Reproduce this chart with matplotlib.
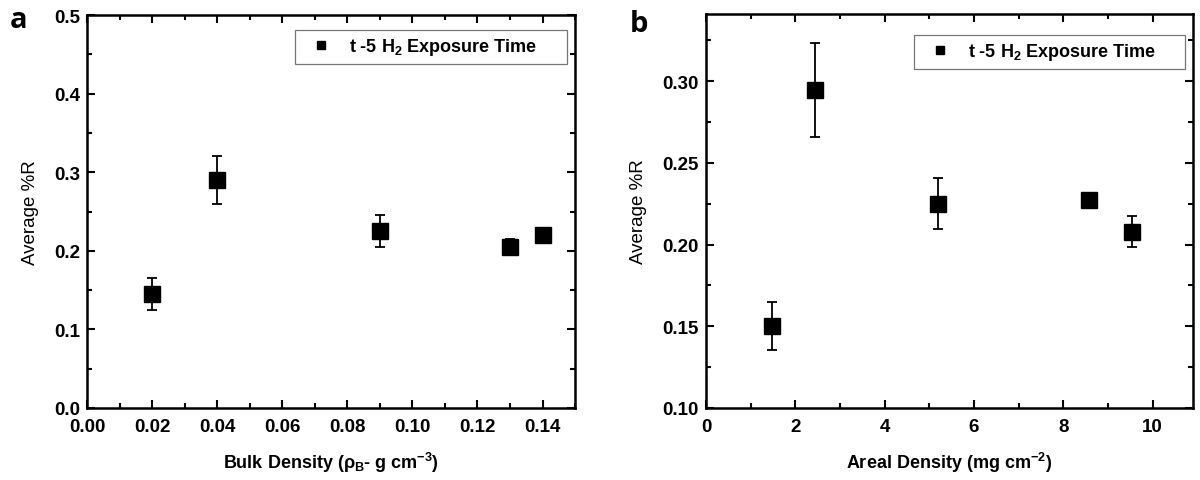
import matplotlib
matplotlib.use("Agg")
import matplotlib.pyplot as plt
from matplotlib.ticker import MultipleLocator, FormatStrFormatter

plt.rcParams['font.family'] = ['Liberation Sans', 'DejaVu Sans']
plt.rcParams['mathtext.fontset'] = 'custom'
plt.rcParams['mathtext.rm'] = 'Liberation Sans:bold'
plt.rcParams['mathtext.it'] = 'Liberation Sans:bold'
plt.rcParams['mathtext.bf'] = 'Liberation Sans:bold'

# panel a: bulk density
bulk_density = [0.02, 0.04, 0.09, 0.13, 0.14]
bulk_r = [0.145, 0.290, 0.225, 0.205, 0.220]
bulk_err = [0.020, 0.030, 0.020, 0.010, 0.0]

# panel b: areal density
areal_density = [1.47, 2.44, 5.20, 8.58, 9.54]
areal_r = [0.150, 0.2945, 0.225, 0.2274, 0.2077]
areal_err = [0.0148, 0.029, 0.0156, 0.0, 0.0095]

legend_label = r"t -5 H$_\mathrm{2}$ Exposure Time"

fig = plt.figure(figsize=(12, 4.81), dpi=100)
ax_a = fig.add_axes([0.0725, 0.1497, 0.4067, 0.817])
ax_b = fig.add_axes([0.5883, 0.1497, 0.4058, 0.819])


def draw_panel(ax, x, y, err, xlim, ylim, xmaj, ymaj, xfmt, yfmt, xlabel, leg_box):
    ax.errorbar(x, y, yerr=err, fmt='none', ecolor='black', elinewidth=1.3,
                capsize=3.8, capthick=1.3, zorder=2)
    ax.plot(x, y, 's', color='black', markersize=11, zorder=3, label=legend_label)
    ax.set_xlim(*xlim)
    ax.set_ylim(*ylim)
    ax.xaxis.set_major_locator(MultipleLocator(xmaj))
    ax.xaxis.set_minor_locator(MultipleLocator(xmaj / 2))
    ax.yaxis.set_major_locator(MultipleLocator(ymaj))
    ax.yaxis.set_minor_locator(MultipleLocator(ymaj / 2))
    ax.xaxis.set_major_formatter(FormatStrFormatter(xfmt))
    ax.yaxis.set_major_formatter(FormatStrFormatter(yfmt))
    ax.tick_params(which='both', direction='in', top=True, right=True, width=1.5,
                   labelsize=13.5)
    ax.tick_params(axis='x', pad=7)
    ax.tick_params(axis='y', pad=5)
    ax.tick_params(which='major', length=6)
    ax.tick_params(which='minor', length=3.5)
    for lbl in ax.get_xticklabels() + ax.get_yticklabels():
        lbl.set_fontweight('bold')
    for sp in ax.spines.values():
        sp.set_linewidth(1.8)
    ax.set_xlabel(xlabel, fontsize=13, fontweight='bold', labelpad=11)
    ax.set_ylabel("Average %R", fontsize=13.5, labelpad=11)
    leg = ax.legend(loc='upper left', bbox_to_anchor=leg_box, mode='expand',
                    borderaxespad=0, fancybox=False, framealpha=1,
                    edgecolor='#777777', markerscale=0.55, handlelength=2.2,
                    handletextpad=0.45, borderpad=0.35,
                    prop={'weight': 'bold', 'size': 13})
    leg.get_frame().set_linewidth(0.9)


draw_panel(ax_a, bulk_density, bulk_r, bulk_err, (0, 0.15), (0, 0.5), 0.02, 0.1,
           '%.2f', '%.1f', r"Bulk Density ($\rho_\mathrm{B}$- g cm$^\mathrm{-3}$)",
           (0.426, 0.883, 0.558, 0.079))
draw_panel(ax_b, areal_density, areal_r, areal_err, (0, 10.9), (0.10, 0.341), 2, 0.05,
           '%d', '%.2f', r"Areal Density (mg cm$^\mathrm{-2}$)",
           (0.427, 0.868, 0.557, 0.079))

fig.text(19 / 1200, 1 - 20 / 481, 'a', fontsize=21, fontweight='bold',
         family=['Open Sans', 'DejaVu Sans'], ha='center', va='center')
fig.text(639 / 1200, 1 - 25 / 481, 'b', fontsize=21, fontweight='bold',
         family=['Open Sans', 'DejaVu Sans'], ha='center', va='center')

fig.savefig('out.png', dpi=100)
